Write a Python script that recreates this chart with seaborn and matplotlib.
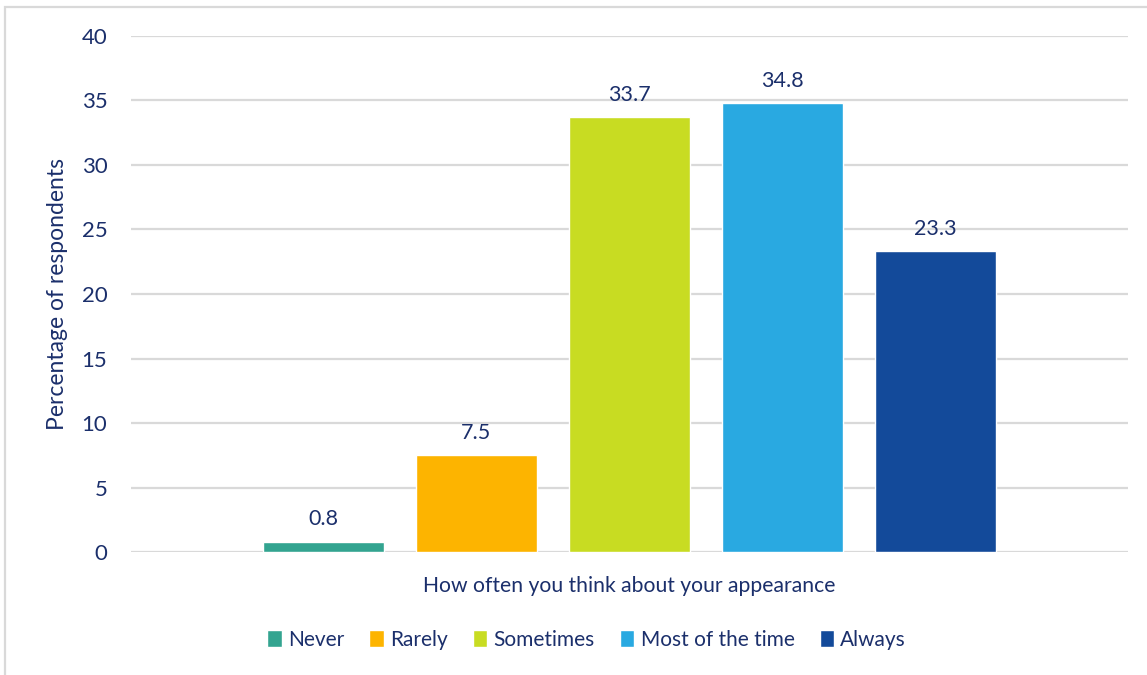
import matplotlib
matplotlib.use("Agg")
import matplotlib.pyplot as plt
import matplotlib.patches as mpatches
import seaborn as sns
import pandas as pd

# Survey responses
group = "How often you think about your appearance"
responses = ["Never", "Rarely", "Sometimes", "Most of the time", "Always"]
percentages = [0.8, 7.5, 33.7, 34.8, 23.3]
colors = ["#33a490", "#fdb400", "#c8dc22", "#29a9e1", "#134a9a"]
y_ticks = [0, 5, 10, 15, 20, 25, 30, 35, 40]

navy = "#1b2f6b"
grid_grey = "#d9d9d9"

sns.set_theme(style="white")
plt.rcParams["font.family"] = ["Lato", "DejaVu Sans"]

df = pd.DataFrame({"group": [group] * len(responses),
                   "response": responses,
                   "pct": percentages})

fig = plt.figure(figsize=(11.47, 6.75), dpi=100)
ax = fig.add_axes([0.1142, 0.1822, 0.9834 - 0.1142, 0.9467 - 0.1822])

sns.barplot(data=df, x="group", y="pct", hue="response", hue_order=responses,
            palette=colors, width=0.7675, gap=0.21, saturation=1,
            errorbar=None, ax=ax, legend=True, zorder=3)

ax.set_ylim(0, 40)
ax.set_xlim(-0.5, 0.5)
ax.set_yticks(y_ticks)
ax.yaxis.grid(True, color=grid_grey, linewidth=1.6, zorder=0)
ax.set_axisbelow(True)
for side in ["top", "right", "left", "bottom"]:
    ax.spines[side].set_visible(False)
ax.tick_params(axis="y", length=0, pad=17, labelsize=16, labelcolor=navy)
ax.set_xticks([])
ax.set_xlabel(group, fontsize=15.2, color=navy, labelpad=17)
ax.set_ylabel("Percentage of respondents", fontsize=16.5, color=navy, labelpad=10)

for container in ax.containers:
    ax.bar_label(container, fmt="%.1f", padding=9, fontsize=15.5, color=navy)

handles, labels = ax.get_legend_handles_labels()
ax.legend(handles, labels, loc="center", bbox_to_anchor=(0.457, -0.1705),
          ncol=5, frameon=False, fontsize=15, handlelength=0.7, handleheight=0.9,
          handletextpad=0.3, columnspacing=1.2, labelcolor=navy)

# light frame around the chart area
frame = mpatches.Rectangle((5 / 1147, -0.2), 1.2, 1.2 - 7 / 675,
                           transform=fig.transFigure, fill=False,
                           edgecolor=grid_grey, linewidth=1.6, clip_on=False)
fig.patches.append(frame)

fig.savefig("out.png", dpi=100, facecolor="white")
